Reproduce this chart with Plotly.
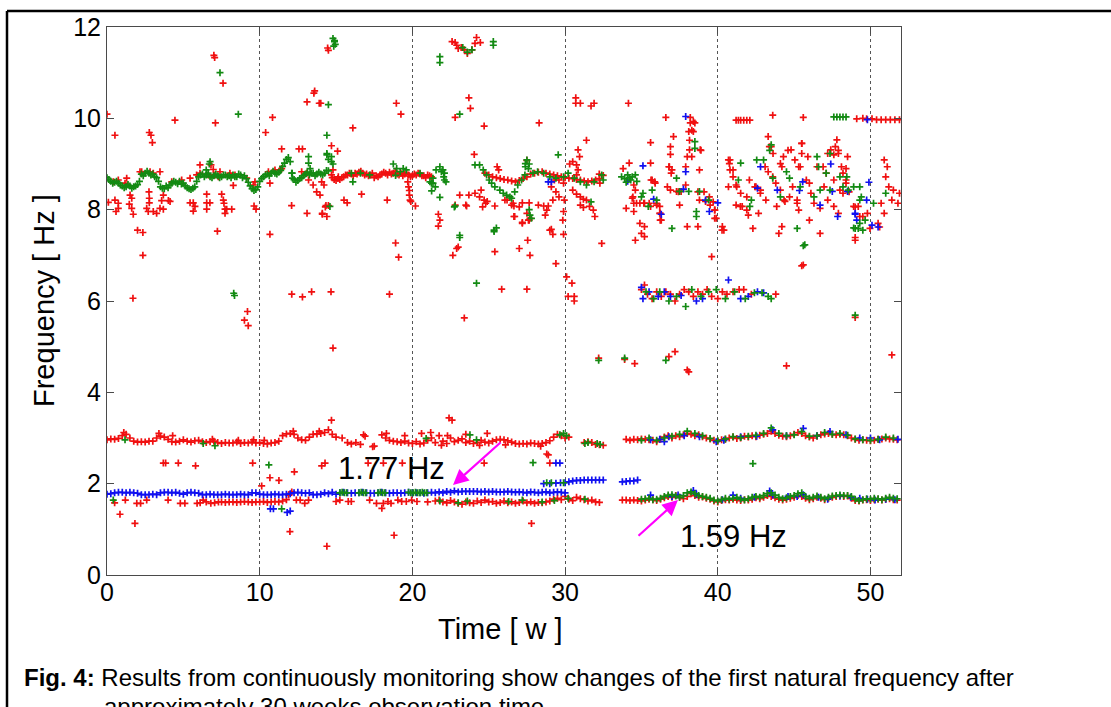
import plotly.graph_objects as go

# ---------------------------------------------------------------- data
STEP = 0.25  # regular sampling interval (weeks) of the dense band series


def weeks(start, values):
    return [round(start + STEP * i, 3) for i in range(len(values))]


x_ticks = [0, 10, 20, 30, 40, 50]
y_ticks = [0, 2, 4, 6, 8, 10, 12]

# ---- blue series --------------------------------------------------------
blue_low_a_start = 0.0
blue_low_a = [1.77, 1.78, 1.80, 1.81, 1.81, 1.80, 1.81, 1.80, 1.79,
              1.76, 1.76, 1.76, 1.77, 1.76,
              1.80, 1.81, 1.81, 1.80, 1.81, 1.79,
              1.77,
              1.80, 1.81, 1.80, 1.79,
              1.76, 1.76, 1.77, 1.76, 1.76, 1.76, 1.77, 1.76, 1.76, 1.76, 1.77, 1.76, 1.76,
              1.80, 1.80,
              1.77, 1.76, 1.76, 1.76, 1.77, 1.76, 1.76, 1.77,
              1.78, 1.80, 1.81, 1.80, 1.79, 1.80,
              1.76, 1.76, 1.77,
              1.80, 1.78, 1.81, 1.77,
              1.80, 1.81, 1.80, 1.79, 1.80, 1.80, 1.81, 1.80, 1.79, 1.79,
              1.80, 1.81, 1.80, 1.79, 1.80, 1.80, 1.79, 1.80, 1.81, 1.80,
              1.80, 1.80, 1.79, 1.80, 1.81, 1.80, 1.82, 1.80, 1.83, 1.81,
              1.84, 1.82, 1.83, 1.83, 1.83, 1.83, 1.83, 1.82, 1.83, 1.82,
              1.83, 1.82, 1.82, 1.82, 1.83, 1.82, 1.81, 1.82, 1.81, 1.80,
              1.82, 1.81, 1.80, 1.81, 1.82, 1.80, 1.81, 1.82, 1.81, 1.80]
blue_high_a_start = 30.0
blue_high_a = [2.02, 2.04, 2.06, 2.07, 2.07, 2.08, 2.08, 2.08, 2.08, 2.08, 2.08]
blue_high_b_start = 33.75
blue_high_b = [2.04, 2.05, 2.06, 2.06, 2.08]
blue_points = [
    (28.6, 2.00), (29.0, 2.00), (29.4, 2.01), (29.7, 2.02), (29.66, 2.45), (29.4, 2.45),
    (10.7, 1.45), (10.9, 1.45), (11.8, 1.37), (12.0, 1.40),
    # 1.59 Hz band, right part
    (35.6, 1.75), (37.0, 1.72), (37.4, 1.75), (38.4, 1.85), (38.6, 1.77), (40.3, 1.65),
    (41.0, 1.75), (41.5, 1.68), (42.4, 1.70), (43.4, 1.84), (43.6, 1.75), (44.6, 1.72),
    (45.2, 1.72), (45.6, 1.76), (46.6, 1.70), (47.2, 1.66), (48.0, 1.73), (48.7, 1.70),
    (49.3, 1.68), (49.8, 1.66), (50.3, 1.64), (51.0, 1.66), (51.6, 1.65),
    # 3 Hz band, right part
    (35.6, 2.96), (36.2, 2.97), (36.5, 2.92), (36.8, 3.03), (37.8, 3.05), (38.8, 3.03),
    (39.9, 2.92), (40.4, 2.95), (41.5, 3.03), (42.55, 3.04), (43.6, 3.18), (44.5, 3.05),
    (45.6, 3.21), (46.5, 3.05), (47.35, 3.14), (48.4, 3.07), (49.3, 3.00), (50.0, 3.00),
    (50.6, 2.96), (51.8, 2.97),
    # 6.2 Hz cluster
    (35.0, 6.30), (35.1, 6.05), (35.5, 6.20), (36.1, 6.10), (36.5, 6.20), (36.9, 6.10),
    (37.6, 6.12), (38.6, 6.00), (39.0, 6.05), (40.7, 6.46), (41.5, 6.05), (42.0, 6.10),
    (42.6, 6.20), (43.0, 6.18),
    # scattered cloud
    (28.9, 8.61), (29.1, 8.61), (34.1, 8.62), (35.1, 8.96), (35.8, 8.23), (36.3, 7.90),
    (37.9, 10.04), (37.9, 8.83), (37.75, 8.45), (39.2, 8.21), (39.45, 7.96), (40.0, 8.15),
    (42.6, 8.47), (42.8, 8.94), (43.9, 8.43), (45.35, 8.42), (45.56, 8.61), (46.7, 8.10),
    (47.4, 9.00), (47.5, 8.40), (47.85, 7.85), (48.5, 8.40), (49.0, 7.90), (49.75, 8.21),
    (50.1, 7.66), (49.9, 8.60), (50.5, 7.62), (49.0, 7.92), (49.1, 7.77), (49.8, 9.97),
]

# ---- red series ---------------------------------------------------------
red_b3_a_start = 0.0
red_b3_a = [2.96, 2.98, 2.97, 2.99, 3.05, 3.08, 3.00, 2.93, 2.91, 2.92, 2.91, 2.93,
            2.93, 3.00, 3.04, 3.02, 2.97, 2.92, 2.91, 2.93, 2.96, 2.93, 2.91, 2.94,
            2.95, 2.92, 2.90, 2.92, 2.93, 2.90, 2.88, 2.90, 2.89, 2.89, 2.91, 2.88,
            2.90, 2.89, 2.91, 2.89, 2.90, 2.88, 2.87, 2.89, 2.90, 2.93, 3.05, 3.09,
            3.10, 3.08, 3.00, 2.96, 2.95, 3.02, 3.08, 3.09, 3.10, 3.12, 3.18, 3.08, 3.02]
red_b3_b_start = 18.0
red_b3_b = [3.07, 3.00, 2.95, 2.93, 2.92, 2.90, 2.93, 2.89, 2.88, 2.92, 2.87, 2.89,
            2.95, 3.00, 2.90, 3.05, 2.93, 2.88, 3.00, 2.92, 2.95, 2.98, 2.90, 2.93,
            2.88, 2.90, 2.95, 2.91, 2.89, 2.93, 2.96, 2.97, 2.96, 2.94, 2.91, 2.88,
            2.87, 2.88, 2.87, 2.89, 2.88, 2.87, 2.88, 2.90, 2.94, 3.02, 3.08, 3.05,
            3.00, 3.02]
red_b3_c_start = 31.25
red_b3_c = [2.90, 2.92, 2.90, 2.86, 2.85, 2.84]
red_b3_r_start = 34.0
red_b3_r = [2.97, 2.95, 2.97, 2.96, 2.98, 2.97, 2.96, 2.95, 2.92, 2.97, 3.02, 3.05,
            3.00, 3.05, 3.03, 3.07, 3.10, 3.08, 3.05, 3.07, 3.03, 3.00, 2.98, 2.95,
            2.93, 2.96, 2.97, 3.00, 3.02, 2.99, 3.00, 3.04, 3.02, 3.05, 3.03, 3.06,
            3.08, 3.10, 3.15, 3.10, 3.06, 3.04, 3.03, 3.05, 3.08, 3.12, 3.10, 3.05,
            3.02, 3.00, 3.04, 3.07, 3.09, 3.10, 3.08, 3.07, 3.08, 3.07, 3.05, 3.00,
            2.97, 2.95, 2.96, 2.95, 2.94, 2.95, 2.97, 2.98, 3.00, 2.98, 2.97, 2.96]
red_low_b_start = 7.5
red_low_b = [1.60, 1.59, 1.60, 1.60, 1.59, 1.60, 1.61, 1.60, 1.59, 1.60, 1.60, 1.61,
             1.59, 1.60, 1.61, 1.60, 1.62, 1.65]
red_low_d_start = 21.5
red_low_d = [1.62, 1.64, 1.60, 1.58, 1.63, 1.60, 1.57, 1.55, 1.60, 1.58, 1.57, 1.62,
             1.59, 1.64, 1.60, 1.61, 1.57, 1.59, 1.62, 1.58, 1.60, 1.57, 1.59, 1.62,
             1.58, 1.60, 1.57, 1.59, 1.58, 1.60, 1.62, 1.66, 1.68, 1.65, 1.72, 1.66,
             1.63, 1.70, 1.67, 1.65, 1.62, 1.64, 1.60, 1.59]
red_low_r_start = 33.75
red_low_r = [1.64, 1.64, 1.63, 1.64, 1.63, 1.62, 1.64, 1.66, 1.65, 1.63, 1.66, 1.69,
             1.72, 1.70, 1.74, 1.70, 1.67, 1.72, 1.78, 1.74, 1.70, 1.71, 1.68, 1.66,
             1.62, 1.60, 1.63, 1.65, 1.64, 1.66, 1.64, 1.63, 1.65, 1.64, 1.66, 1.69,
             1.67, 1.70, 1.74, 1.72, 1.69, 1.66, 1.64, 1.66, 1.68, 1.70, 1.74, 1.72,
             1.68, 1.65, 1.67, 1.70, 1.68, 1.65, 1.68, 1.70, 1.72, 1.73, 1.72, 1.73,
             1.68, 1.63, 1.62, 1.64, 1.65, 1.63, 1.65, 1.66, 1.64, 1.66, 1.67, 1.65, 1.64]
red_hi_b_start = 14.75
red_hi_b = [8.70, 8.64, 8.66, 8.72, 8.76, 8.78, 8.80, 8.82, 8.80, 8.78, 8.76, 8.70,
            8.72, 8.78, 8.80, 8.82, 8.80, 8.78, 8.80, 8.78, 8.76, 8.74, 8.76, 8.78,
            8.74, 8.76, 8.72]
red_hi_b2_start = 14.875
red_hi_b2 = [8.66, 8.68, 8.70, 8.76, 8.80, 8.74, 8.78, 8.84, 8.76, 8.74, 8.80, 8.74,
             8.76, 8.82, 8.76, 8.78, 8.84, 8.76, 8.74, 8.80, 8.72, 8.78, 8.80, 8.74,
             8.70, 8.74]
red_hi_c_start = 24.75
red_hi_c = [8.80, 8.76, 8.72, 8.70, 8.68, 8.66, 8.65, 8.63, 8.61, 8.64, 8.68, 8.72,
            8.78, 8.80, 8.82, 8.83, 8.80, 8.78, 8.76, 8.74, 8.72, 8.70, 8.69, 8.68,
            8.66, 8.65, 8.63, 8.61, 8.63, 8.65, 8.68, 8.75]
red_points = [
    # low band, left part
    (0.5, 1.58), (1.2, 1.64), (1.95, 1.57), (2.2, 1.57), (2.6, 1.64), (4.0, 1.64),
    (4.8, 1.57), (5.1, 1.57), (5.9, 1.57), (6.1, 1.58), (6.3, 1.64), (6.5, 1.60),
    (6.8, 1.57), (7.05, 1.58), (7.3, 1.60), (11.9, 1.75), (12.1, 1.82),
    (12.4, 1.64), (12.65, 1.64), (12.95, 1.57), (13.2, 1.64), (15.0, 1.61), (15.25, 1.64),
    (15.8, 1.61), (16.0, 1.61), (17.2, 1.64), (17.65, 1.57), (18.1, 1.57), (18.4, 1.61),
    (18.6, 1.57), (19.05, 1.64), (19.3, 1.61), (19.6, 1.61), (19.95, 1.64), (20.3, 1.61),
    (21.0, 1.60),
    # 3 Hz band, sparse parts and spread
    (15.4, 3.00), (15.75, 2.90), (16.0, 2.87), (16.3, 2.90), (16.6, 2.86), (16.8, 3.07),
    (16.9, 3.04), (17.4, 2.81), (17.5, 2.82), (1.1, 3.12), (3.4, 3.10), (4.3, 3.05),
    (6.9, 2.97), (8.6, 2.95), (9.6, 2.96), (10.3, 2.95), (12.2, 3.15), (13.9, 3.15),
    (19.5, 3.05), (20.6, 3.10), (21.2, 3.12), (22.3, 3.05), (23.5, 3.08), (24.9, 3.10),
    (26.1, 2.85), (28.4, 2.82), (18.3, 3.10), (21.9, 2.84), (24.4, 2.84),
    # low outliers
    (0.85, 1.33), (1.83, 1.13), (9.54, 2.45), (10.13, 1.95), (10.67, 2.13), (11.26, 2.07),
    (12.27, 2.26), (3.69, 2.45), (3.84, 2.45), (4.67, 2.45), (5.8, 2.39), (14.06, 2.39),
    (14.28, 2.45), (18.0, 1.46), (19.34, 2.45), (17.1, 2.45), (18.1, 2.45), (24.7, 2.45),
    (28.9, 2.63), (28.8, 2.65), (29.0, 2.45), (14.7, 3.39), (22.4, 3.44), (22.6, 3.39),
    (11.98, 0.95), (14.4, 0.63), (18.8, 0.87), (27.8, 1.13),
    # 4.5 - 5 Hz
    (32.2, 4.75), (33.9, 4.72), (34.56, 4.63), (36.8, 4.78), (37.2, 4.89), (38.0, 4.49),
    (38.1, 4.45), (44.5, 4.58), (51.4, 4.82), (14.8, 4.97),
    # upper region 0 - 15
    (0.0, 10.09), (0.52, 9.63), (1.7, 6.06), (2.0, 7.55), (2.35, 7.50), (2.35, 7.00),
    (0.09, 8.16), (0.52, 8.21), (0.74, 8.14), (0.74, 8.03), (0.59, 7.96), (1.51, 8.32),
    (1.62, 8.25), (1.46, 8.12), (1.62, 8.03), (1.72, 7.90),
    (2.77, 9.69), (2.88, 9.63), (2.97, 9.47), (4.45, 9.96), (7.1, 9.90),
    (2.75, 8.39), (2.77, 8.25), (2.77, 8.15), (2.6, 8.03), (2.7, 7.96), (3.69, 8.32),
    (3.58, 8.20), (4.02, 8.20), (4.13, 8.18), (3.03, 7.96), (3.25, 7.92), (3.47, 8.03),
    (3.69, 8.01), (5.44, 8.15), (5.65, 8.15), (5.76, 8.07), (5.65, 7.97), (6.53, 8.34),
    (6.53, 8.15), (6.74, 8.15), (6.53, 8.01), (7.51, 8.34), (7.62, 8.21), (7.66, 8.14),
    (7.73, 8.01), (7.84, 8.01), (7.73, 7.92), (7.23, 7.53), (8.17, 8.01),
    (6.09, 8.98), (6.81, 8.98), (6.96, 8.88), (7.29, 8.72), (8.27, 8.53), (9.58, 8.54),
    (9.63, 8.08), (9.76, 8.01), (10.67, 8.58), (10.67, 7.46), (12.09, 8.09),
    (7.0, 11.38), (7.05, 11.33), (7.6, 10.77), (9.2, 5.77), (9.0, 5.58), (9.25, 5.46),
    (10.39, 9.69), (10.84, 10.02), (11.44, 9.33), (12.57, 9.33), (12.8, 9.33),
    (14.7, 9.40), (15.1, 9.28), (13.1, 10.36), (13.55, 10.55), (13.6, 10.60),
    (13.9, 10.33), (14.0, 10.33), (14.45, 11.54), (14.5, 11.49),
    (12.1, 6.15), (12.8, 6.09), (13.4, 6.20), (14.67, 6.20),
    (13.1, 7.92), (14.1, 7.92), (14.3, 8.06), (14.34, 8.09), (14.5, 8.09), (14.1, 7.90),
    (14.4, 7.85), (12.75, 8.83), (13.08, 8.80), (13.2, 8.65), (13.5, 8.54), (13.73, 8.39),
    (13.95, 8.32), (14.06, 8.61), (14.21, 8.54), (14.7, 8.76), (14.8, 8.87), (15.15, 8.72),
    (11.33, 8.87),
    (0.41, 8.61), (0.74, 8.65), (1.18, 8.58), (1.29, 8.69), (2.16, 8.83), (2.27, 8.83),
    (2.82, 8.83), (3.03, 8.80), (3.47, 8.83), (4.24, 8.61), (4.89, 8.65), (5.44, 8.69),
    (5.87, 8.76), (6.09, 8.80), (6.64, 8.76), (7.07, 8.76), (7.4, 8.83), (8.05, 8.80),
    (8.38, 8.76), (9.15, 8.69), (9.69, 8.61), (10.57, 8.83), (11.0, 8.87), (11.44, 8.90),
    # upper region 15 - 33
    (16.1, 9.79), (18.5, 6.15), (18.95, 10.33), (19.25, 10.09), (18.9, 7.27), (19.1, 6.96),
    (15.52, 8.21), (15.73, 8.15), (16.67, 8.34), (18.35, 8.21), (19.7, 8.61), (19.75, 8.50),
    (19.8, 8.42), (19.8, 8.32), (19.85, 8.21), (19.9, 8.18), (20.2, 8.08),
    (21.7, 7.90), (21.8, 7.77), (21.7, 7.64),
    (22.6, 11.68), (22.8, 11.66), (23.0, 11.53), (23.4, 11.50), (23.6, 11.42), (23.9, 11.50),
    (24.1, 11.64), (24.2, 11.77), (24.45, 11.66), (22.9, 11.60), (23.2, 11.55),
    (23.7, 10.45), (23.8, 10.22), (22.8, 10.02), (24.7, 9.83), (28.3, 9.90), (24.05, 9.21),
    (22.8, 8.10), (23.5, 8.10), (23.1, 8.32), (23.55, 8.08), (23.7, 8.32),
    (22.9, 7.15), (22.65, 7.00), (23.0, 7.18), (25.4, 7.08), (25.85, 6.26), (27.5, 6.26),
    (23.4, 5.63), (26.65, 7.85), (27.2, 7.72), (27.65, 7.77), (27.0, 7.15), (27.7, 7.00),
    (27.55, 7.33), (28.7, 7.88), (29.0, 7.55), (29.4, 6.82), (29.1, 7.57), (29.2, 7.46),
    (29.9, 7.46), (24.1, 8.36), (24.7, 8.21), (24.8, 8.14), (24.6, 8.06), (24.5, 8.43),
    (24.9, 8.18), (24.4, 8.28), (25.55, 8.94), (25.65, 8.87), (26.2, 8.21), (26.6, 8.14),
    (27.0, 8.06), (27.5, 7.92), (27.7, 7.81), (27.6, 7.77), (27.5, 9.08), (25.4, 8.08),
    (26.06, 8.21), (26.5, 8.10), (26.65, 8.08), (27.2, 8.15), (27.65, 8.15), (26.7, 7.85),
    (27.2, 7.70), (28.25, 8.10), (28.6, 8.08), (28.8, 7.99), (28.9, 8.08), (29.1, 8.50),
    (29.3, 8.65), (29.6, 8.65), (29.4, 8.39), (29.6, 8.28), (29.2, 8.21), (29.9, 8.58),
    (29.95, 8.21), (29.9, 7.96), (29.85, 7.77), (30.3, 9.00), (30.5, 9.05), (30.75, 8.98),
    (30.85, 8.87), (30.75, 8.76), (30.95, 9.16), (30.85, 9.31), (30.5, 8.43), (30.75, 8.34),
    (31.0, 8.28), (31.2, 8.23), (31.4, 8.21), (31.0, 8.10), (31.2, 8.05), (31.6, 8.07),
    (31.85, 7.99), (31.95, 7.85), (32.24, 8.78), (32.28, 8.58), (30.7, 10.45), (30.7, 10.33),
    (31.0, 10.33), (31.7, 10.27), (31.9, 10.33), (31.4, 9.52), (32.4, 7.26),
    (30.1, 6.53), (30.45, 6.39), (30.2, 6.10), (30.6, 6.10), (30.6, 6.00),
    # 6.2 Hz cluster
    (35.0, 6.25), (35.2, 6.35), (35.4, 6.15), (35.7, 6.05), (36.0, 6.20), (36.3, 6.10),
    (36.6, 6.20), (36.9, 6.15), (37.2, 6.00), (37.5, 6.15), (37.8, 6.25), (38.1, 6.20),
    (38.4, 6.10), (38.7, 6.20), (39.0, 6.15), (39.3, 6.25), (39.6, 6.10), (40.0, 6.05),
    (40.3, 6.20), (40.6, 6.15), (41.0, 6.20), (41.4, 6.25), (41.7, 6.25), (42.2, 6.15),
    (43.8, 6.15),
    # right cloud
    (34.15, 10.33), (36.6, 10.02), (38.2, 10.02), (38.2, 9.90), (38.5, 9.90), (38.1, 9.71),
    (38.4, 9.71), (35.6, 9.47), (37.1, 9.60), (36.9, 9.38), (36.9, 9.21), (38.9, 9.30),
    (38.3, 9.16), (35.6, 9.02), (34.2, 9.02), (33.8, 8.90), (36.8, 8.94), (37.0, 8.87),
    (38.8, 8.87), (35.7, 8.65), (35.9, 8.58), (34.5, 8.54), (34.6, 8.43), (34.4, 8.25),
    (34.5, 8.14), (34.0, 8.03), (34.5, 7.96), (34.9, 8.14), (35.2, 8.14), (35.6, 8.07),
    (36.0, 8.10), (36.2, 8.07), (36.2, 7.92), (36.3, 7.77), (34.9, 7.70), (35.2, 7.63),
    (34.6, 7.33), (35.0, 7.48), (35.2, 7.41), (36.7, 8.50), (36.9, 8.43), (37.3, 8.40),
    (37.6, 8.40), (37.5, 8.10), (38.0, 7.63), (38.7, 7.63), (38.8, 8.21), (39.2, 8.18),
    (39.5, 8.10), (39.8, 7.99), (39.8, 7.81), (39.6, 6.97), (40.4, 7.55), (40.3, 7.63),
    (40.7, 9.09), (40.8, 9.09), (40.8, 8.87), (41.0, 8.72), (40.7, 8.50), (41.2, 8.54),
    (41.5, 8.36), (41.9, 8.28), (41.2, 8.10), (41.6, 8.07), (41.9, 7.99), (42.0, 7.88),
    (41.2, 9.96), (41.35, 9.96), (41.5, 9.96), (41.7, 9.96), (41.9, 9.96), (42.1, 9.96),
    (42.3, 7.59), (42.5, 8.50), (42.8, 8.43), (43.1, 8.94), (43.3, 8.83), (43.3, 9.60),
    (43.5, 9.38), (43.6, 10.07), (43.6, 8.72), (43.8, 8.58), (44.1, 8.43), (44.2, 8.94),
    (44.0, 7.48), (44.2, 7.63), (44.3, 9.16), (44.6, 9.30), (44.4, 8.18), (44.7, 8.28),
    (44.9, 8.50), (45.2, 8.14), (45.3, 8.94), (45.5, 9.23), (45.5, 9.45), (45.6, 10.02),
    (45.6, 6.79), (45.8, 8.65), (46.0, 7.77), (46.3, 8.14), (46.7, 8.03), (46.7, 7.48),
    (46.9, 8.94), (47.1, 8.80), (47.2, 9.23), (47.6, 9.20), (47.8, 9.53), (47.9, 9.30),
    (47.6, 8.65), (48.0, 8.43), (48.1, 8.94), (48.4, 8.90), (48.2, 8.36), (48.5, 9.16),
    (48.4, 8.65), (48.9, 8.07), (49.2, 8.07), (49.0, 7.33), (49.3, 7.85), (49.5, 7.85),
    (49.97, 7.59), (49.1, 9.99), (49.5, 10.00), (49.75, 9.99), (50.1, 9.99), (50.4, 9.97),
    (50.7, 9.97), (51.0, 9.97), (51.3, 9.97), (51.6, 9.97), (51.9, 9.97),
    (49.0, 8.06), (49.8, 7.92), (50.5, 7.70), (50.6, 7.62), (50.9, 9.09), (51.1, 8.94),
    (51.0, 8.72), (51.2, 8.50), (51.5, 8.43), (51.9, 8.36), (51.4, 8.21), (51.8, 8.14),
    (50.7, 8.14), (50.9, 7.92), (49.0, 7.39), (49.0, 5.64), (45.5, 6.77),
    (34.44, 8.28), (34.68, 8.14), (35.16, 8.14), (35.51, 8.14), (35.99, 8.14), (35.63, 8.65),
    (35.87, 8.61), (36.23, 7.92), (36.23, 7.77), (36.83, 8.94), (36.95, 8.80), (37.42, 8.39),
    (37.9, 8.94), (38.0, 9.16), (38.15, 9.31), (38.15, 9.52), (38.3, 9.74), (38.4, 9.93),
    (38.85, 9.31), (37.9, 8.54), (38.7, 8.39), (39.1, 8.39), (39.45, 8.28), (39.7, 8.17),
    (39.8, 7.99), (39.9, 7.81), (40.28, 7.55), (40.76, 9.01), (41.0, 8.87), (41.24, 8.50),
    (41.48, 8.07), (42.07, 8.65), (42.43, 8.50), (42.79, 8.36), (43.15, 8.21), (43.38, 9.38),
    (43.62, 9.23), (44.1, 9.01), (42.67, 7.92), (43.86, 8.07), (44.34, 8.21), (44.8, 9.31),
    (45.05, 9.09), (45.4, 8.94), (45.5, 9.45), (45.9, 9.16), (45.2, 8.21), (45.3, 7.99),
    (46.0, 8.58), (46.1, 8.36), (46.5, 8.94), (46.96, 8.50), (47.2, 8.21), (47.4, 9.31),
    (47.7, 9.38), (47.9, 9.23), (48.2, 8.80), (48.4, 8.58), (48.6, 8.39), (47.6, 8.07),
    (47.9, 7.92),
]

# ---- green series -------------------------------------------------------
green_hi_a_start = 0.0
green_hi_a = [8.70, 8.62, 8.60, 8.58, 8.52, 8.50, 8.52, 8.50, 8.55, 8.78, 8.80, 8.80,
              8.78, 8.70, 8.50, 8.46, 8.48, 8.58, 8.60, 8.62, 8.58, 8.48, 8.44, 8.50,
              8.72, 8.78, 8.76, 8.72, 8.74, 8.74, 8.72, 8.76, 8.74, 8.76, 8.72, 8.76,
              8.74, 8.60, 8.46, 8.44, 8.62, 8.72, 8.78, 8.80, 8.80, 8.82, 8.95, 9.10,
              9.05, 8.66, 8.64, 8.70, 8.78, 8.76, 8.80, 8.78, 8.78, 8.80, 8.85]
green_hi_a2_start = 0.125
green_hi_a2 = [8.66, 8.58, 8.62, 8.54, 8.48, 8.55, 8.47, 8.52, 8.62, 8.74, 8.84, 8.76,
               8.72, 8.62, 8.47, 8.52, 8.54, 8.62, 8.57, 8.56, 8.52, 8.46, 8.47, 8.62,
               8.76, 8.72, 8.80, 8.70, 8.78, 8.70, 8.76, 8.72, 8.70, 8.72, 8.78, 8.70,
               8.68, 8.52, 8.42, 8.50, 8.68, 8.76, 8.74, 8.84, 8.78, 8.86, 9.02, 9.14,
               8.80, 8.60, 8.68, 8.74, 8.82, 8.80, 8.74, 8.82, 8.76, 8.86]
green_b3_r_start = 35.0
green_b3_r = [2.95, 3.00, 2.95, 3.00, 3.04, 3.08, 3.15, 3.10, 3.05, 2.99, 2.94, 2.98,
              3.03, 3.01, 3.04, 3.06, 3.10, 3.22, 3.10, 3.05, 3.07, 3.14, 3.04, 3.05,
              3.12, 3.08, 3.10, 3.06, 2.98, 2.96, 2.95, 2.97, 3.02, 3.00]
green_low_r_start = 35.0
green_low_r = [1.66, 1.67, 1.68, 1.65, 1.66, 1.68, 1.72, 1.75, 1.76, 1.73, 1.70, 1.74,
               1.80, 1.82, 1.78, 1.74, 1.72, 1.70, 1.68, 1.64, 1.62, 1.65, 1.68, 1.66,
               1.68, 1.70, 1.66, 1.64, 1.67, 1.70, 1.72, 1.70, 1.74, 1.78, 1.80, 1.75,
               1.70, 1.67, 1.69, 1.72, 1.74, 1.78, 1.80, 1.72, 1.68, 1.70, 1.73, 1.70,
               1.67, 1.70, 1.73, 1.74, 1.75, 1.74, 1.74, 1.72, 1.66, 1.63, 1.65, 1.67,
               1.66, 1.68, 1.67, 1.65, 1.68, 1.70, 1.68, 1.67]
green_points = [
    # V shape and band 24 - 32.5
    (24.1, 8.98), (24.4, 8.98), (24.64, 8.87), (24.86, 8.76), (25.03, 8.65), (25.19, 8.58),
    (25.4, 8.50), (25.73, 8.43), (25.95, 8.36), (26.17, 8.32), (26.39, 8.28), (26.5, 8.25),
    (26.7, 8.39), (26.9, 8.54), (27.15, 8.65), (27.37, 8.76), (27.6, 8.90), (27.65, 9.00),
    (27.5, 9.09), (27.9, 8.80), (28.2, 8.83), (28.6, 8.80), (29.0, 8.72), (29.4, 8.69),
    (29.9, 8.72), (30.2, 8.80), (30.6, 8.69), (31.0, 8.61), (31.4, 8.54), (31.9, 8.61),
    (32.4, 8.76), (29.55, 9.20), (31.7, 8.17),
    # cluster 33.7 - 34.7 and right cloud
    (32.5, 8.65), (33.7, 8.72), (33.9, 8.68), (34.0, 8.60), (34.1, 8.76), (34.2, 8.70),
    (34.3, 8.65), (34.4, 8.72), (34.6, 8.76), (34.7, 8.62),
    (35.1, 8.36), (35.0, 8.28), (35.45, 8.07), (35.7, 8.43), (36.0, 8.21), (37.0, 7.59),
    (37.3, 8.69), (37.5, 8.40), (38.1, 8.40), (38.5, 9.49), (38.6, 7.96), (38.6, 7.85),
    (38.5, 9.34), (38.8, 8.40), (39.4, 8.21), (41.5, 9.02), (41.35, 8.65), (42.2, 8.21),
    (42.1, 8.07), (42.55, 9.09), (43.0, 9.09), (43.4, 9.30), (43.5, 9.42), (43.6, 8.69),
    (44.1, 8.28), (44.5, 8.83), (44.7, 8.69), (45.4, 8.50), (45.2, 7.59), (45.7, 7.23),
    (46.5, 9.16), (46.6, 8.94), (46.3, 8.28), (46.7, 8.43), (47.35, 9.23), (47.1, 8.80),
    (47.35, 8.43), (48.0, 8.72), (48.2, 8.50), (48.45, 8.72), (48.55, 8.43), (48.9, 8.50),
    (49.0, 7.59), (49.2, 7.59), (49.5, 7.55), (49.3, 7.70), (49.65, 7.77), (50.2, 8.14),
    (49.3, 8.21), (49.3, 8.50), (49.4, 8.28), (48.9, 7.60), (51.0, 8.36), (45.6, 7.21),
    (49.0, 5.69), (47.6, 10.03), (47.8, 10.03), (48.0, 10.03), (48.2, 10.03), (48.4, 10.03),
    (36.6, 4.70), (33.9, 4.75), (32.2, 4.70), (42.3, 2.44),
    # 6.2 Hz cluster
    (35.3, 6.20), (35.8, 6.05), (36.2, 6.20), (36.8, 6.00), (37.3, 6.10), (37.9, 5.88),
    (38.3, 6.25), (38.9, 6.10), (39.4, 6.20), (39.9, 6.25), (40.5, 6.05), (41.1, 6.20),
    (41.8, 6.05), (42.4, 6.18), (42.9, 6.18), (43.3, 6.10), (43.5, 6.05),
    # left upper region
    (6.5, 8.87), (6.7, 9.00), (6.75, 9.05), (12.1, 8.80), (12.15, 8.69), (13.2, 9.16),
    (13.2, 9.02), (13.3, 8.90), (14.4, 9.23), (14.5, 9.10), (14.7, 9.05), (14.4, 9.63),
    (14.6, 8.07), (14.5, 10.30), (14.4, 9.20), (7.4, 11.00), (8.6, 10.09), (8.3, 6.17),
    (8.35, 6.12), (14.8, 11.75), (14.9, 11.68), (14.95, 11.62), (14.85, 11.58), (14.9, 11.70),
    (14.7, 9.16), (14.8, 9.00), (16.0, 8.80), (16.6, 8.80), (18.75, 9.00), (18.97, 8.90),
    (19.2, 8.83), (19.4, 8.90), (19.6, 8.87), (17.2, 8.76), (16.1, 8.61), (18.9, 8.75),
    (20.5, 8.80), (21.15, 8.61), (21.25, 8.58), (21.35, 8.69), (21.55, 8.87), (21.8, 8.94),
    (21.9, 8.83), (22.0, 8.87), (22.1, 8.80), (22.1, 8.65), (22.2, 8.61), (21.35, 8.58),
    (21.5, 8.50), (22.05, 8.72),
    (21.8, 11.35), (21.8, 11.22), (23.6, 11.45), (23.9, 11.50), (23.3, 11.55), (25.3, 11.68),
    (25.3, 11.60), (23.1, 10.09), (22.75, 8.06), (23.1, 7.44), (23.1, 7.39), (25.35, 7.55),
    (25.35, 7.52), (25.5, 7.60), (24.2, 6.39), (22.8, 8.08), (21.26, 8.41), (21.8, 8.27),
    (27.65, 8.00), (27.7, 7.88), (27.8, 7.81), (27.4, 9.01), (27.4, 8.94),
    # low region
    (0.41, 1.64), (10.6, 2.41), (11.44, 1.45), (1.18, 2.96), (6.3, 2.88), (7.07, 2.83),
    (20.9, 2.99), (23.77, 3.07), (24.2, 2.96), (27.9, 2.46), (29.66, 3.07), (29.9, 3.10),
    (30.1, 3.05), (31.3, 2.88), (31.5, 2.90), (32.1, 2.88), (32.3, 2.86),
    (28.8, 2.02), (29.1, 2.02), (29.9, 2.02),
    (15.25, 1.80), (15.4, 1.81), (15.55, 1.80), (15.7, 1.80), (16.5, 1.80), (16.65, 1.81),
    (16.8, 1.80), (16.95, 1.80), (17.75, 1.80), (17.9, 1.81), (18.05, 1.80), (18.2, 1.80),
    (19.75, 1.81), (19.9, 1.80), (20.05, 1.80), (20.2, 1.81), (20.35, 1.80), (20.5, 1.80),
    (20.65, 1.81), (20.8, 1.80), (20.95, 1.80),
    (21.8, 1.62), (23.0, 1.58), (23.6, 1.62), (26.3, 1.61), (27.2, 1.64), (28.5, 1.60),
    (29.3, 1.63), (30.2, 1.68), (31.3, 1.66),
]

# ---------------------------------------------------------------- build
def collect(bands, points):
    xs, ys = [], []
    for start, vals in bands:
        xs += weeks(start, vals)
        ys += list(vals)
    xs += [p[0] for p in points]
    ys += [p[1] for p in points]
    return xs, ys


red_x, red_y = collect([(red_b3_a_start, red_b3_a), (red_b3_b_start, red_b3_b),
                        (red_b3_c_start, red_b3_c), (red_b3_r_start, red_b3_r),
                        (red_low_b_start, red_low_b), (red_low_d_start, red_low_d),
                        (red_low_r_start, red_low_r), (red_hi_b_start, red_hi_b),
                        (red_hi_b2_start, red_hi_b2), (red_hi_c_start, red_hi_c)], red_points)
blue_x, blue_y = collect([(blue_low_a_start, blue_low_a), (blue_high_a_start, blue_high_a),
                          (blue_high_b_start, blue_high_b)], blue_points)
green_x, green_y = collect([(green_hi_a_start, green_hi_a), (green_hi_a2_start, green_hi_a2),
                            (green_low_r_start, green_low_r)], green_points)
# green 3 Hz series on the right is sampled every half week
green_x += [round(green_b3_r_start + 0.5 * i, 3) for i in range(len(green_b3_r))]
green_y += green_b3_r

RED, GREEN, BLUE = "#f01010", "#138a13", "#1010f0"


def marker(color):
    return dict(symbol="cross-thin", size=5, line=dict(width=1.7, color=color), color=color)


fig = go.Figure()
fig.add_trace(go.Scatter(x=red_x, y=red_y, mode="markers", marker=marker(RED), hoverinfo="x+y"))
fig.add_trace(go.Scatter(x=blue_x, y=blue_y, mode="markers", marker=marker(BLUE), hoverinfo="x+y"))
fig.add_trace(go.Scatter(x=green_x, y=green_y, mode="markers", marker=marker(GREEN), hoverinfo="x+y"))

# ---------------------------------------------------------------- layout
L, R, T, B = 107, 210, 27, 132
W_FIG, H_FIG = 1111, 707
PW, PH = W_FIG - L - R, H_FIG - T - B


def px(xp):
    return (xp - L) / PW


def py(yp):
    return (H_FIG - B - yp) / PH


FONT = "Liberation Sans, Arial, Helvetica, sans-serif"
AXC = "#4a4a4a"

fig.update_layout(
    width=W_FIG, height=H_FIG,
    margin=dict(l=L, r=R, t=T, b=B, pad=0),
    paper_bgcolor="white", plot_bgcolor="white",
    showlegend=False,
    font=dict(family=FONT, color="black"),
    xaxis=dict(range=[0, 52], tickmode="array", tickvals=x_ticks,
               ticks="inside", ticklen=7, tickwidth=1, tickcolor=AXC,
               showline=True, linecolor=AXC, linewidth=1, mirror="ticks",
               showgrid=True, gridcolor="#555555", griddash="dot", gridwidth=1,
               zeroline=False, ticklabelstandoff=-5,
               tickfont=dict(size=25, family=FONT, color="black")),
    yaxis=dict(range=[0, 12], tickmode="array", tickvals=y_ticks,
               ticks="inside", ticklen=7, tickwidth=1, tickcolor=AXC,
               showline=True, linecolor=AXC, linewidth=1, mirror="ticks",
               showgrid=False, zeroline=False,
               tickfont=dict(size=25, family=FONT, color="black")),
)

MAG = "#ff00ff"
TXT = dict(family=FONT, color="black")
annotations = [
    dict(x=22.66, y=1.97, ax=25.87, ay=2.93, xref="x", yref="y", axref="x", ayref="y",
         text="", showarrow=True, arrowhead=2, arrowsize=1.4, arrowwidth=2.2, arrowcolor=MAG),
    dict(x=37.39, y=1.64, ax=34.71, ay=0.83, xref="x", yref="y", axref="x", ayref="y",
         text="", showarrow=True, arrowhead=2, arrowsize=1.4, arrowwidth=2.2, arrowcolor=MAG),
    dict(x=18.65, y=2.33, xref="x", yref="y", text="1.77 Hz", showarrow=False,
         xanchor="center", yanchor="middle", font=dict(size=31, **TXT)),
    dict(x=41.06, y=0.85, xref="x", yref="y", text="1.59 Hz", showarrow=False,
         xanchor="center", yanchor="middle", font=dict(size=31, **TXT)),
    dict(x=px(500), y=py(629), xref="paper", yref="paper", text="Time [ w ]",
         xanchor="center", yanchor="middle", showarrow=False, font=dict(size=29, **TXT)),
    dict(x=px(44), y=py(301), xref="paper", yref="paper", text="Frequency [ Hz ]",
         xanchor="center", yanchor="middle",
         textangle=-90, showarrow=False, font=dict(size=29, **TXT)),
    dict(x=px(22), y=py(677), xref="paper", yref="paper", xanchor="left", yanchor="middle",
         text="<b>Fig. 4:</b> Results from continuously monitoring show changes of the first natural frequency after",
         showarrow=False, font=dict(size=24, **TXT)),
    dict(x=px(102), y=py(706), xref="paper", yref="paper", xanchor="left", yanchor="middle",
         text="approximately 30 weeks observation time.",
         showarrow=False, font=dict(size=24, **TXT)),
]
fig.update_layout(annotations=annotations)

fig.update_layout(shapes=[
    dict(type="line", xref="paper", yref="paper", x0=px(7), x1=px(1115), y0=py(11), y1=py(11),
         line=dict(color="black", width=2.5)),
    dict(type="line", xref="paper", yref="paper", x0=px(7), x1=px(7), y0=py(11), y1=py(720),
         line=dict(color="black", width=2.5)),
])

# the page body must not add its default 8 px margin around the fixed-size figure
fig.write_html("out.html", config={"displayModeBar": False},
               post_script="document.body.style.margin='0px';")
